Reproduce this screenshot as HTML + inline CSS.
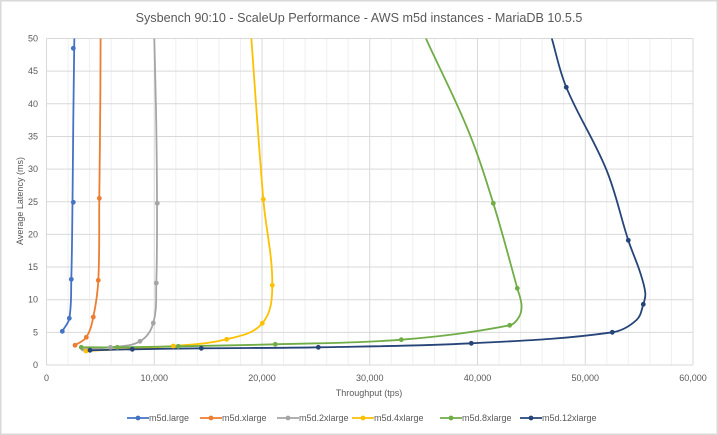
<!DOCTYPE html>
<html><head><meta charset="utf-8"><style>
html,body{margin:0;padding:0;background:#d9d9d9;}
svg{display:block;font-family:"Liberation Sans",sans-serif;}
</style></head><body>
<svg id="s" width="718" height="435" xmlns="http://www.w3.org/2000/svg">
<rect x="1.5" y="1.5" width="715" height="432" fill="#fff"/>
<defs><clipPath id="c"><rect x="46.5" y="38.5" width="646.5" height="326.5"/></clipPath></defs>
<g id="grid"></g>
<text x="359" y="22" text-anchor="middle" font-size="12.6" fill="#595959">Sysbench 90:10 - ScaleUp Performance - AWS m5d instances - MariaDB 10.5.5</text>
<g id="yl" font-size="9" fill="#595959" text-anchor="end"></g>
<g id="xl" font-size="9" fill="#595959" text-anchor="middle"></g>
<text x="369" y="396" text-anchor="middle" font-size="9" fill="#595959">Throughput (tps)</text>
<text transform="translate(23,201) rotate(-90)" text-anchor="middle" font-size="9" fill="#595959">Average Latency (ms)</text>
<g id="series" clip-path="url(#c)" fill="none" stroke-width="1.8" stroke-linejoin="round"></g>
<g id="dots"></g>
<g id="leg" font-size="9" fill="#595959"></g>
</svg>
<script>
var NS="http://www.w3.org/2000/svg";
function el(p,t,a,txt){var e=document.createElementNS(NS,t);for(var k in a)e.setAttribute(k,a[k]);if(txt)e.textContent=txt;document.getElementById(p).appendChild(e);return e;}
var x0=46.5,x1=693,y0=365,y1=38.5;
for(var i=0;i<=30;i++){var x=x0+(x1-x0)*i/30;if(i%5)el("grid","line",{x1:x,x2:x,y1:y1,y2:y0,stroke:"#efefef","stroke-width":1});}
for(var i=0;i<=6;i++){var x=x0+(x1-x0)*i/6;el("grid","line",{x1:x,x2:x,y1:y1,y2:y0,stroke:"#d9d9d9","stroke-width":1});
el("xl","text",{x:x,y:381},i==0?"0":(i*10)+",000");}
for(var j=0;j<=10;j++){var y=y0-(y0-y1)*j/10;el("grid","line",{x1:x0,x2:x1,y1:y,y2:y,stroke:"#d9d9d9","stroke-width":1});
el("yl","text",{x:38,y:y+3},String(j*5));}
var S=[
["#4472C4",[[62.3,331.3],[69.3,318.3],[71.3,279.3],[72.5,202.3],[73.3,120],[74.7,10]],[[62.3,331.3],[69.3,318.3],[71.3,279.3],[73.3,202.3],[73.3,48.3]]],
["#ED7D31",[[75,345.3],[86.3,337.3],[93.3,317],[98.3,280.3],[99.3,198.3],[100.3,100],[100.7,10]],[[75,345.3],[86.3,337.3],[93.3,317],[98.3,280.3],[99.3,198.3]]],
["#A5A5A5",[[83,349],[110.5,347.3],[140,341.3],[153.3,323],[156.3,283],[157,203.3],[156,110],[153.5,10]],[[83,349],[110.5,347.3],[140,341.3],[153.3,323],[156.3,283],[157.3,203.3]]],
["#FFC000",[[86,351],[173.3,346],[226.7,339.3],[262.3,323.3],[272.3,285.3],[263.3,199.3],[250,20]],[[86,351],[173.3,346],[226.7,339.3],[262.3,323.3],[272.3,285.3],[263.3,199.3]]],
["#70AD47",[[81.3,347.3],[117.3,347.3],[178.3,346.3],[275.3,344.3],[401.3,339.7],[509.7,325.3],[519,317],[521.5,305],[517.3,288.3],[493.3,203.3],[468,130],[425.7,38],[418,20]],[[81.3,347.3],[117.3,347.3],[178.3,346.3],[275.3,344.3],[401.3,339.7],[509.7,325.3],[517.3,288.3],[493.3,203.3]]],
["#264478",[[90,350.3],[132.3,349.3],[201.3,348.3],[318.3,347.3],[471.3,343.3],[612.3,332.3],[636.5,320],[643.3,304.3],[645.3,293],[640,272],[628.3,240.3],[606.5,170],[566.3,87.3],[551.7,38],[547,20]],[[90,350.3],[132.3,349.3],[201.3,348.3],[318.3,347.3],[471.3,343.3],[612.3,332.3],[643.3,304.3],[628.3,240.3],[566.3,87.3]]]
];
function unit(v){var l=Math.hypot(v[0],v[1])||1;return [v[0]/l,v[1]/l];}
function cr(p){var n=p.length,T=[];
for(var i=0;i<n;i++){var a=p[Math.max(0,i-1)],c=p[Math.min(n-1,i+1)];T.push(unit([c[0]-a[0],c[1]-a[1]]));}
var d="M"+p[0][0]+","+p[0][1];
for(var i=0;i<n-1;i++){var b=p[i],c=p[i+1],L=Math.hypot(c[0]-b[0],c[1]-b[1])*0.36;
d+="C"+(b[0]+T[i][0]*L).toFixed(2)+","+(b[1]+T[i][1]*L).toFixed(2)+" "+(c[0]-T[i+1][0]*L).toFixed(2)+","+(c[1]-T[i+1][1]*L).toFixed(2)+" "+c[0]+","+c[1];}
return d;}
S.forEach(function(s){el("series","path",{d:cr(s[1]),stroke:s[0]});s[2].forEach(function(q){el("dots","circle",{cx:q[0],cy:q[1],r:2.4,fill:s[0]});});});
var L=[["m5d.large",127],["m5d.xlarge",200],["m5d.2xlarge",277],["m5d.4xlarge",352],["m5d.8xlarge",440],["m5d.12xlarge",520]];
L.forEach(function(l,i){var c=S[i][0];el("leg","line",{x1:l[1],x2:l[1]+22,y1:418,y2:418,stroke:c,"stroke-width":1.8});
el("leg","circle",{cx:l[1]+11,cy:418,r:2.4,fill:c});el("leg","text",{x:l[1]+22,y:421},l[0]);});
</script>
</body></html>
